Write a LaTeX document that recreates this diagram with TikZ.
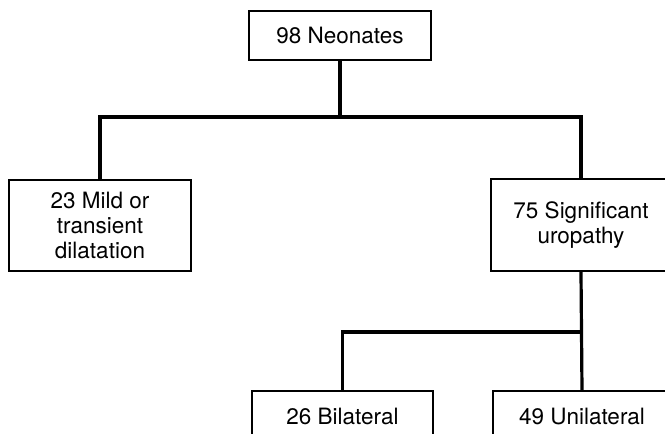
\documentclass[tikz,border=0pt]{standalone}
\usepackage{fontspec}
\setmainfont{TeX Gyre Heros}
\begin{document}
\begin{tikzpicture}[x=1pt,y=1pt,
  box/.style={draw=black, line width=2.2pt, rectangle, inner sep=0pt, align=center,
    font=\fontsize{22.5}{25}\selectfont},
  link/.style={draw=black, line width=3.2pt}]
\useasboundingbox (0,0) rectangle (665,-434);
\clip (0,0) rectangle (665,-434);
\node[box, minimum width=182, minimum height=49] (top) at (340,-35.5) {98 Neonates};
\node[box, minimum width=182, minimum height=91] (left) at (100,-225.5) {23 Mild or\\transient\\dilatation};
\node[box, minimum width=180, minimum height=92] (right) at (581,-225) {75 Significant\\uropathy};
\node[box, minimum width=181, minimum height=50] (bil) at (342.5,-416) {26 Bilateral};
\node[box, minimum width=178, minimum height=50] (uni) at (582,-416) {49 Unilateral};
\coordinate (b1) at (340,-117);
\coordinate (b2) at (581,-332);
\draw[link] (top.south) -- (b1);
\draw[link] (left.north) |- (b1) -| (right.north);
\draw[link] (right.south) -- (uni.north);
\draw[link] (bil.north) |- (b2);
\end{tikzpicture}
\end{document}
